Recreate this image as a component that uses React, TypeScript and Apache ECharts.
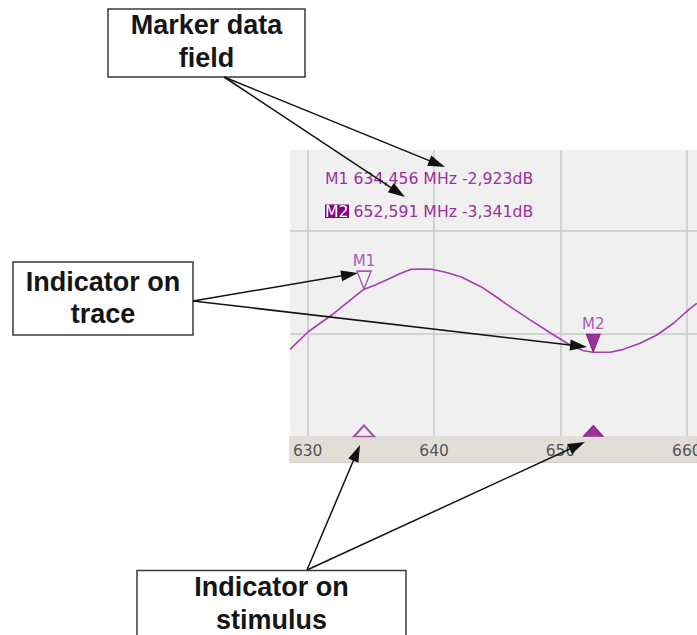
import React, { useEffect, useRef } from 'react';
import * as echarts from 'echarts';

// Trace (frequency in MHz, level in dB)
const freqMHz = [628.6, 630.02, 631.87, 633.19, 634.456, 635.3, 636.36, 637.41, 638.2, 638.99, 639.78, 640.84, 642.16, 643.74, 644.93, 646.01, 647.6, 649.18, 650.76, 651.82, 652.591, 653.93, 654.98, 656.3, 657.63, 658.94, 660.26, 660.79];
const traceDb = [-3.322, -3.207, -3.096, -3.008, -2.923, -2.897, -2.857, -2.816, -2.791, -2.789, -2.791, -2.809, -2.842, -2.908, -2.975, -3.039, -3.127, -3.212, -3.293, -3.331, -3.341, -3.341, -3.322, -3.282, -3.227, -3.149, -3.05, -3.017];

// Markers
const markerNames = ['M1', 'M2'];
const markerFreq = [634.456, 652.591];
const markerDb = [-2.923, -3.341];
const markerActive = [false, true];

// Axes
const xMin = 628.6;
const xMax = 660.8;
const yMin = -3.9;
const yMax = -2.0;
const gridDivisions = 2.78; // horizontal graticule (divisions across plot height)

// Callouts
const calloutMarkerData = ['Marker data', 'field'];
const calloutTrace = ['Indicator on', 'trace'];
const calloutStimulus = ['Indicator on', 'stimulus'];

const PURPLE_LINE = '#a63db2';
const PURPLE_TEXT = '#9a2fa0';
const PURPLE_DARK = '#820582';
const PLOT_BG = '#f0f0f0';
const GRID_COLOR = '#c8c8c8';
const SMALL_FONT = '"DejaVu Sans", Tahoma, sans-serif';
const BIG_FONT = '"Liberation Sans", Arial, sans-serif';

function fmt(v: number) {
  return v.toFixed(3).replace('.', ',');
}

function arrow(x1: number, y1: number, x2: number, y2: number) {
  const dx = x2 - x1;
  const dy = y2 - y1;
  const len = Math.hypot(dx, dy);
  const ux = dx / len;
  const uy = dy / len;
  const hl = 17;
  const hw = 5.5;
  const bx = x2 - ux * hl;
  const by = y2 - uy * hl;
  return [
    {
      type: 'line',
      z: 100,
      shape: { x1, y1, x2: bx + ux * 2, y2: by + uy * 2 },
      style: { stroke: '#111', lineWidth: 1.5 },
    },
    {
      type: 'polygon',
      z: 100,
      shape: {
        points: [
          [x2, y2],
          [bx - uy * hw, by + ux * hw],
          [bx + uy * hw, by - ux * hw],
        ],
      },
      style: { fill: '#111' },
    },
  ];
}

function callout(x: number, y: number, w: number, h: number, lines: string[], ys: number[]) {
  const els: any[] = [
    {
      type: 'rect',
      z: 100,
      shape: { x, y, width: w, height: h },
      style: { fill: '#ffffff', stroke: '#3a3a3a', lineWidth: 1.5 },
    },
  ];
  lines.forEach((t, i) => {
    els.push({
      type: 'text',
      z: 101,
      x: x + w / 2,
      y: ys[i],
      style: {
        text: t,
        fill: '#151515',
        font: `bold 27px ${BIG_FONT}`,
        align: 'center',
        verticalAlign: 'middle',
      },
    });
  });
  return els;
}

export default function App() {
  const ref = useRef<HTMLDivElement>(null);

  useEffect(() => {
    if (!ref.current) return;
    const chart = echarts.init(ref.current, undefined, { renderer: 'svg' });

    const traceData = freqMHz.map((f, i) => [f, traceDb[i]]);

    const markerPoints = markerNames.map((n, i) => ({
      name: n,
      value: [markerFreq[i], markerDb[i]],
      itemStyle: markerActive[i]
        ? { color: PURPLE_DARK, borderColor: PURPLE_DARK, borderWidth: 1 }
        : { color: PLOT_BG, borderColor: PURPLE_TEXT, borderWidth: 1.5 },
    }));

    const stimulusPoints = markerNames.map((n, i) => ({
      name: n,
      value: [markerFreq[i], yMin],
      itemStyle: markerActive[i]
        ? { color: PURPLE_DARK, borderColor: PURPLE_DARK, borderWidth: 1 }
        : { color: PLOT_BG, borderColor: PURPLE_TEXT, borderWidth: 2 },
    }));

    const line1 = `${markerNames[0]} ${fmt(markerFreq[0])} MHz ${fmt(markerDb[0])}dB`;
    const line2 = `{hl|${markerNames[1]}} ${fmt(markerFreq[1])} MHz ${fmt(markerDb[1])}dB`;

    const graphic: any[] = [
      // stimulus axis strip
      {
        type: 'rect',
        z: -1,
        shape: { x: 290, y: 436.5, width: 407, height: 26 },
        style: { fill: '#e1ded7', stroke: '#d2cfc8', lineWidth: 1 },
      },
      // marker data field
      {
        type: 'text',
        z: 5,
        x: 325,
        y: 178,
        style: {
          text: line1,
          fill: PURPLE_TEXT,
          font: `15.7px ${SMALL_FONT}`,
          verticalAlign: 'middle',
        },
      },
      {
        type: 'rect',
        z: 4,
        shape: { x: 325, y: 204.5, width: 24, height: 13.5 },
        style: { fill: PURPLE_DARK },
      },
      {
        type: 'text',
        z: 5,
        x: 325,
        y: 211,
        style: {
          text: line2,
          fill: PURPLE_TEXT,
          font: `15.7px ${SMALL_FONT}`,
          verticalAlign: 'middle',
          rich: {
            hl: { fill: '#ffffff', font: `15.7px ${SMALL_FONT}` },
          },
        },
      },
      ...callout(108, 9, 197, 68, calloutMarkerData, [25, 58]),
      ...callout(13, 262, 180, 73, calloutTrace, [282, 314]),
      ...callout(137, 570.5, 269, 80, calloutStimulus, [587, 620]),
      ...arrow(224, 77, 445, 167),
      ...arrow(224, 77, 405, 197),
      ...arrow(193, 301, 358, 273),
      ...arrow(193, 301, 587, 347),
      ...arrow(307, 570, 360, 445),
      ...arrow(307, 570, 585, 442),
    ];

    chart.setOption({
      animation: false,
      backgroundColor: '#ffffff',
      grid: {
        left: 290,
        right: 0,
        top: 150,
        bottom: 198.5,
        show: true,
        backgroundColor: PLOT_BG,
        borderWidth: 0,
        containLabel: false,
        outerBoundsMode: 'none',
      },
      xAxis: {
        type: 'value',
        min: xMin,
        max: xMax,
        splitNumber: 3,
        axisLine: { show: false },
        axisTick: { show: false },
        axisLabel: {
          color: '#555555',
          fontSize: 15.5,
          fontFamily: SMALL_FONT,
          margin: 6,
          lineHeight: 16,
          formatter: (v: number) =>
            Math.abs(v - Math.round(v / 10) * 10) < 1e-6 ? String(Math.round(v)) : '',
        },
        splitLine: {
          show: true,
          showMinLine: false,
          showMaxLine: false,
          lineStyle: { color: GRID_COLOR, width: 1.5 },
        },
      },
      yAxis: [
        {
          type: 'value',
          min: yMin,
          max: yMax,
          show: false,
          splitLine: { show: false },
        },
        {
          type: 'value',
          min: 0,
          max: gridDivisions,
          interval: 1,
          axisLine: { show: false },
          axisTick: { show: false },
          axisLabel: { show: false },
          splitLine: {
            show: true,
            showMinLine: false,
            showMaxLine: false,
            lineStyle: { color: GRID_COLOR, width: 1.5 },
          },
        },
      ],
      series: [
        {
          type: 'line',
          name: 'Trace',
          data: traceData,
          yAxisIndex: 0,
          symbol: 'none',
          smooth: false,
          lineStyle: { color: PURPLE_LINE, width: 1.6 },
          z: 3,
          silent: true,
        },
        {
          type: 'scatter',
          name: 'Markers',
          data: markerPoints,
          yAxisIndex: 0,
          symbol: 'path://M0,0L14,0L7,18Z',
          symbolSize: [14, 18],
          symbolOffset: [0, -9],
          clip: false,
          z: 4,
          silent: true,
          label: {
            show: true,
            position: 'top',
            distance: 2,
            formatter: '{b}',
            color: PURPLE_TEXT,
            fontSize: 15,
            fontFamily: SMALL_FONT,
          },
        },
        {
          type: 'scatter',
          name: 'Stimulus',
          data: stimulusPoints,
          yAxisIndex: 0,
          symbol: 'triangle',
          symbolSize: [20, 11],
          symbolOffset: [0, -5.5],
          clip: false,
          z: 4,
          silent: true,
        },
      ],
      graphic,
    });

    return () => chart.dispose();
  }, []);

  return (
    <div
      ref={ref}
      style={{ position: 'fixed', left: 0, top: 0, width: 697, height: 635 }}
    />
  );
}
